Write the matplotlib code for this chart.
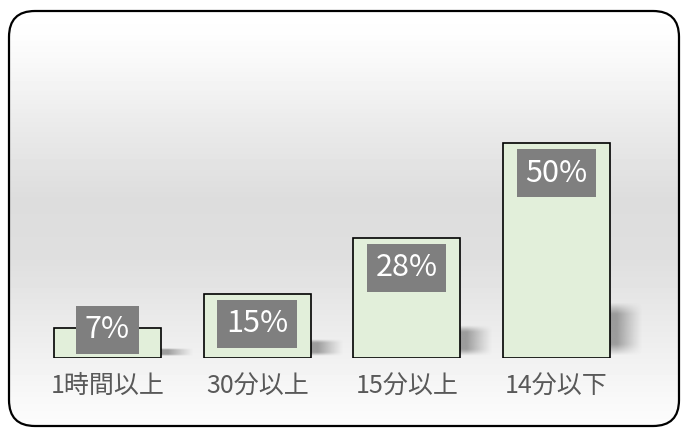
import numpy as np
import matplotlib
matplotlib.use("Agg")
import matplotlib.pyplot as plt
from matplotlib.patches import FancyBboxPatch

plt.rcParams['font.family'] = ['Noto Sans CJK JP', 'DejaVu Sans']

categories = ['1時間以上', '30分以上', '15分以上', '14分以下']
values = [7, 15, 28, 50]
value_labels = ['7%', '15%', '28%', '50%']

W, H = 685, 430
fig = plt.figure(figsize=(W / 100, H / 100), dpi=100)

# background: vertical grey gradient clipped to a rounded frame
bg = fig.add_axes([0, 0, 1, 1])
bg.set_xlim(0, W)
bg.set_ylim(0, H)
bg.axis('off')
stops_y = [0, 30, 60, 130, 200, 260, 330, 400, 430]   # px from top
stops_c = [1.0, 0.995, 0.975, 0.915, 0.865, 0.875, 0.925, 0.975, 0.99]
rows = np.interp(np.arange(H), stops_y, stops_c)
grad = np.repeat(rows[:, None], 2, axis=1)
im = bg.imshow(grad, cmap='gray', vmin=0, vmax=1, extent=[0, W, 0, H],
               aspect='auto', origin='upper', zorder=0)
frame = FancyBboxPatch((9, 4), 670, 415,
                       boxstyle='round,pad=0,rounding_size=26',
                       facecolor='none', edgecolor='black', linewidth=1.6,
                       zorder=2)
bg.add_patch(frame)
im.set_clip_path(frame)

# bar axes: zero line at y=358 px, 4.3 px per percent
spacing = 149.67
left_px = 107.5 - 0.6 * spacing
right_px = 107.5 + 3.8 * spacing
ax = fig.add_axes([left_px / W, 72 / H, (right_px - left_px) / W, 258 / H])
ax.set_xlim(-0.6, 3.8)
ax.set_ylim(0, 60)
ax.patch.set_alpha(0)
for s in ax.spines.values():
    s.set_visible(False)
ax.set_yticks([])

x = np.arange(len(values))
bar_w = 0.715

# soft shadows to the right of each bar
sh_w = 0.22
xs = np.linspace(0, 1, 40)
ys = np.linspace(0, 1, 40)
XX, YY = np.meshgrid(xs, ys)
fade_x = np.clip(1.25 * (1 - XX), 0, 1) ** 1.2
fade_y = np.clip(np.sin(np.pi * YY) * 1.6, 0, 1)
shadow = np.zeros((40, 40, 4))
shadow[..., :3] = 0.4
shadow[..., 3] = 0.6 * fade_x * fade_y
for xi, v in zip(x, values):
    h = 0.25 * v
    x0 = xi + bar_w / 2
    ax.imshow(shadow, extent=[x0, x0 + sh_w, 0.4, 0.4 + h], aspect='auto',
              origin='lower', zorder=1, interpolation='bilinear', clip_on=False)

ax.bar(x, values, width=bar_w, color='#e2efda', edgecolor='black',
       linewidth=1.2, zorder=2)

for xi, v, lab in zip(x, values, value_labels):
    yc = v - 7 if v > 10 else v - 0.4
    ax.text(xi, yc, lab, ha='center', va='center', color='white',
            fontsize=22, zorder=3,
            bbox=dict(boxstyle='square,pad=0.28', facecolor='#7f7f7f',
                      edgecolor='none'))

ax.set_xticks(x)
ax.set_xticklabels(categories, fontsize=18, color='#595959')
ax.tick_params(axis='x', length=0, pad=11)

fig.savefig('out.png', dpi=100)
